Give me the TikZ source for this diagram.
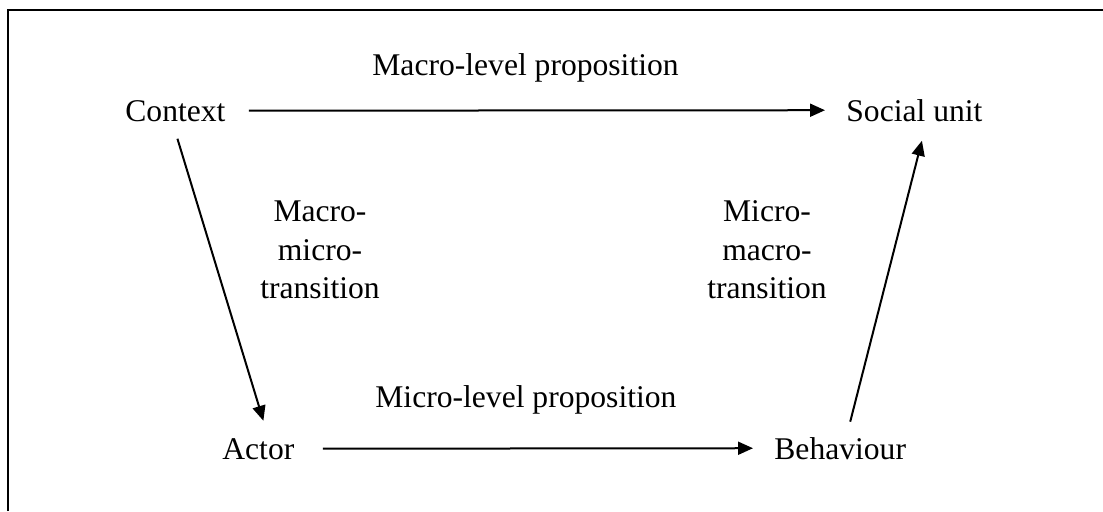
\documentclass[tikz,border=0pt]{standalone}
\usepackage{fontspec}
\setmainfont{Liberation Serif}
\usetikzlibrary{arrows.meta,calc}
\begin{document}
\begin{tikzpicture}[x=0.5pt,y=-0.5pt,
  lbl/.style={inner sep=0pt,font=\fontsize{15.8}{19.2}\selectfont},
  trans/.style={lbl,align=center},
  conn/.style={line width=1pt,-{Triangle[length=7.5pt,width=6.5pt]}},
  frame/.style={line width=1pt}]
\useasboundingbox (0,0) rectangle (1103,511);
\draw[frame] (8,511) -- (8,10) -- (1103,10);
\node[lbl,anchor=base west] (ctx) at (125,121) {Context};
\node[lbl,anchor=base west] (soc) at (846,121) {Social unit};
\node[lbl,anchor=base west] (act) at (222,459) {Actor};
\node[lbl,anchor=base west] (beh) at (774,459) {Behaviour};
\node[lbl,anchor=base west] (macp) at (372,75) {Macro-level proposition};
\node[lbl,anchor=base west] (micp) at (375,407) {Micro-level proposition};
\node[trans] (mmt) at (320,250) {Macro-\\micro-\\transition};
\node[trans] (mmt2) at (767,250) {Micro-\\macro-\\transition};
\draw[conn,shorten <=11.5pt,shorten >=10.5pt] (ctx.east) -- (soc.west);
\draw[conn,shorten <=14pt,shorten >=10.5pt] (act.east) -- (beh.west);
\draw[conn] ([shift={(2,17)}]ctx.south) -- ([shift={(5,-17)}]act.north);
\draw[conn] ([shift={(10,-15)}]beh.north) -- ([shift={(7.5,19)}]soc.south);
\end{tikzpicture}
\end{document}
